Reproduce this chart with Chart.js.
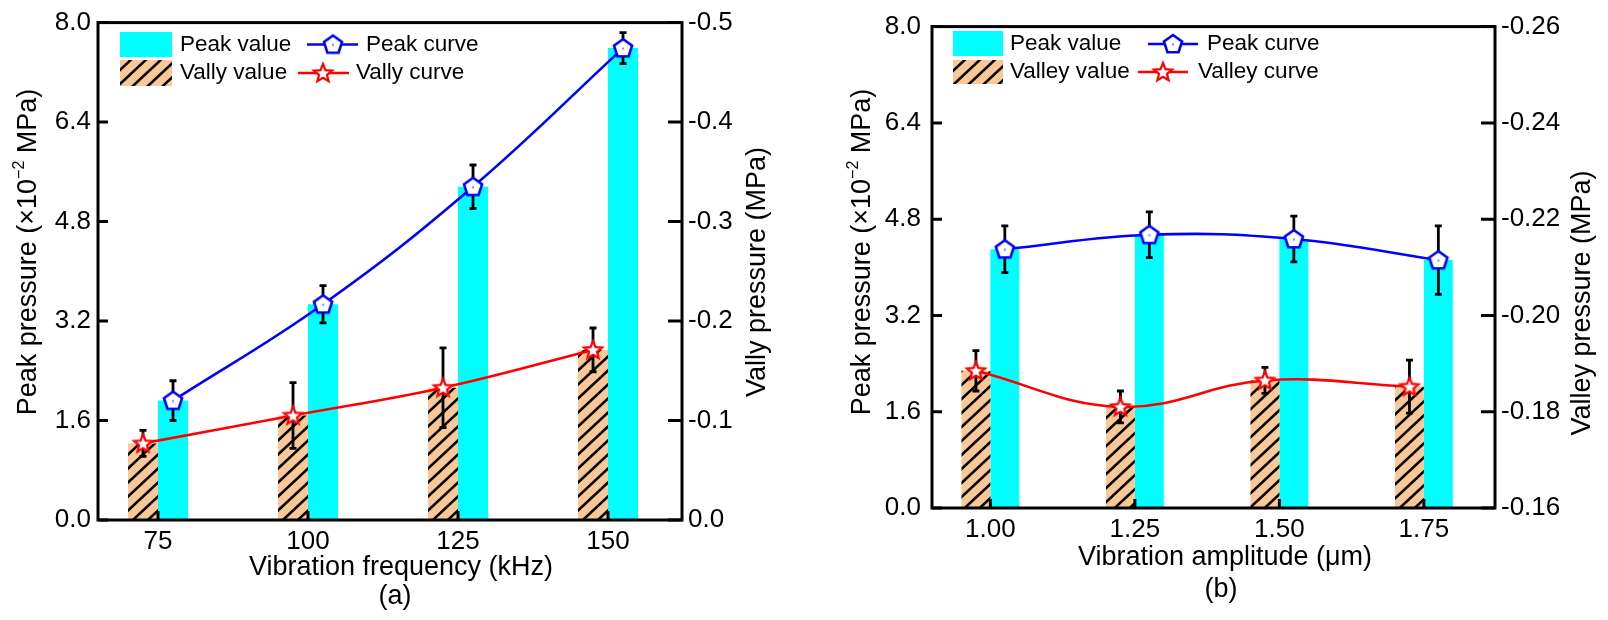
<!DOCTYPE html>
<html>
<head>
<meta charset="utf-8">
<script src="https://cdn.jsdelivr.net/npm/chart.js@4.4.0/dist/chart.umd.min.js"></script>
<style>
  html, body { margin: 0; padding: 0; background: #fff; }
  #wrap { position: relative; width: 1608px; height: 620px; }
  canvas { position: absolute; top: 0; }
  #chartA { left: 0; }
  #chartB { left: 804px; }
</style>
</head>
<body>
<div id="wrap">
  <canvas id="chartA" width="804" height="620"></canvas>
  <canvas id="chartB" width="804" height="620"></canvas>
</div>
<script>
// 数据 (a) 振动频率
const freqs = [75, 100, 125, 150];
const freqLabels = ['75', '100', '125', '150'];
const peakA = [1.92, 3.47, 5.36, 7.59];
const peakErrA = [0.32, 0.30, 0.35, 0.25];
const valleyA = [-0.077, -0.105, -0.133, -0.171];
const valleyErrA = [0.013, 0.033, 0.040, 0.022];

// 数据 (b) 振动幅值
const amps = [1.00, 1.25, 1.50, 1.75];
const ampLabels = ['1.00', '1.25', '1.50', '1.75'];
const peakB = [4.30, 4.54, 4.47, 4.12];
const peakErrB = [0.39, 0.38, 0.38, 0.57];
const valleyB = [-0.1885, -0.1810, -0.1865, -0.1852];
const valleyErrB = [0.0042, 0.0033, 0.0027, 0.0055];

// 刻度
const peakTicks = [0, 1.6, 3.2, 4.8, 6.4, 8.0];
const valleyTicksA = [0, -0.1, -0.2, -0.3, -0.4, -0.5];
const valleyTicksB = [-0.16, -0.18, -0.20, -0.22, -0.24, -0.26];

const FONT = '"Liberation Sans", Arial, sans-serif';
const CYAN = '#00FFFF';
const ORANGE = '#FAC896';
const BLUE = '#0000FF';
const RED = '#FF0000';
const CAT_PCT = 0.4;

// 斜线填充
function makeHatch() {
    const w = 15, h = 14;
    const k = h / w;
    const c = document.createElement('canvas');
    c.width = w; c.height = h;
    const g = c.getContext('2d');
    g.fillStyle = ORANGE;
    g.fillRect(0, 0, w, h);
    g.strokeStyle = '#000';
    g.lineWidth = 2.6;
    g.beginPath();
    [0, h, 2 * h].forEach(b => {
        g.moveTo(-2, b + 2 * k);
        g.lineTo(w + 2, b - k * (w + 2));
    });
    g.stroke();
    return document.createElement('canvas').getContext('2d').createPattern(c, 'repeat');
}

function makePentagon() {
    const s = 26, c = document.createElement('canvas');
    c.width = s; c.height = s;
    const g = c.getContext('2d');
    const r = 9.5, cx = s / 2, cy = s / 2 + 0.5;
    g.beginPath();
    for (let i = 0; i < 5; i++) {
        const a = -Math.PI / 2 + i * 2 * Math.PI / 5;
        g.lineTo(cx + r * Math.cos(a), cy + r * Math.sin(a));
    }
    g.closePath();
    g.fillStyle = '#fff';
    g.fill();
    g.strokeStyle = BLUE;
    g.lineWidth = 2.6;
    g.stroke();
    g.fillStyle = BLUE;
    g.fillRect(cx - 0.5, cy - 1, 1, 2);
    return c;
}

function makeStar() {
    const s = 26, c = document.createElement('canvas');
    c.width = s; c.height = s;
    const g = c.getContext('2d');
    const ro = 9.5, ri = 4.2, cx = s / 2, cy = s / 2 + 0.5;
    g.beginPath();
    for (let i = 0; i < 10; i++) {
        const r = i % 2 ? ri : ro;
        const a = -Math.PI / 2 + i * Math.PI / 5;
        g.lineTo(cx + r * Math.cos(a), cy + r * Math.sin(a));
    }
    g.closePath();
    g.fillStyle = '#fff';
    g.fill();
    g.strokeStyle = RED;
    g.lineWidth = 2.2;
    g.stroke();
    return c;
}

const hatch = makeHatch();
const pentagon = makePentagon();
const star = makeStar();

// 旋转文字（可带上标）
function drawRotated(ctx, cx, cy, parts) {
    ctx.save();
    ctx.translate(cx, cy);
    ctx.rotate(-Math.PI / 2);
    ctx.textBaseline = 'middle';
    ctx.textAlign = 'left';
    let total = 0;
    parts.forEach(p => { ctx.font = p.font; p.w = ctx.measureText(p.text).width; total += p.w; });
    let x = -total / 2;
    parts.forEach(p => {
        ctx.font = p.font;
        ctx.fillText(p.text, x, p.dy || 0);
        x += p.w;
    });
    ctx.restore();
}

function makeDecor(cfg) {
    return {
        id: 'decor',
        beforeDatasetDraw(chart, args) {
            const ds = chart.data.datasets[args.index];
            if (!ds.errors) return;
            const ctx = chart.ctx;
            const ys = chart.scales[args.meta.yAxisID];
            ctx.save();
            ctx.strokeStyle = '#000';
            ctx.lineWidth = 2.8;
            args.meta.data.forEach((pt, i) => {
                const v = ds.data[i].y, e = ds.errors[i];
                const y1 = ys.getPixelForValue(v + e);
                const y2 = ys.getPixelForValue(v - e);
                ctx.beginPath();
                ctx.moveTo(pt.x, y1); ctx.lineTo(pt.x, y2);
                ctx.moveTo(pt.x - 3.5, y1); ctx.lineTo(pt.x + 3.5, y1);
                ctx.moveTo(pt.x - 3.5, y2); ctx.lineTo(pt.x + 3.5, y2);
                ctx.stroke();
            });
            ctx.restore();
        },
        afterDraw(chart) {
            const ctx = chart.ctx;
            const a = chart.chartArea;
            ctx.save();
            // 内侧刻度
            ctx.strokeStyle = '#000';
            ctx.lineWidth = 3;
            ctx.beginPath();
            const yL = chart.scales.y, yR = chart.scales.y1, xs = chart.scales.x;
            yL.ticks.forEach((t, i) => { const p = yL.getPixelForTick(i); ctx.moveTo(a.left, p); ctx.lineTo(a.left + 10, p); });
            yR.ticks.forEach((t, i) => { const p = yR.getPixelForTick(i); ctx.moveTo(a.right, p); ctx.lineTo(a.right - 14, p); });
            xs.ticks.forEach((t, i) => { const p = xs.getPixelForTick(i); ctx.moveTo(p, a.bottom); ctx.lineTo(p, a.bottom - 9); });
            ctx.stroke();
            // 边框
            ctx.strokeRect(a.left, a.top, a.right - a.left, a.bottom - a.top);

            // 标题
            ctx.fillStyle = '#000';
            ctx.font = '27px ' + FONT;
            ctx.textAlign = 'center';
            ctx.textBaseline = 'middle';
            ctx.fillText(cfg.titleX.text, cfg.titleX.x, cfg.titleX.y);
            ctx.fillText(cfg.panel.text, cfg.panel.x, cfg.panel.y);
            drawRotated(ctx, cfg.titleL.x, cfg.titleL.y, [
                { text: 'Peak pressure (\u00d710', font: '27px ' + FONT },
                { text: '\u22122', font: '16px ' + FONT, dy: -9 },
                { text: ' MPa)', font: '27px ' + FONT }
            ]);
            drawRotated(ctx, cfg.titleR.x, cfg.titleR.y, [{ text: cfg.titleR.text, font: '27px ' + FONT }]);

            // 图例
            const L = cfg.legend;
            const ds = chart.data.datasets;
            ctx.fillStyle = CYAN;
            ctx.fillRect(...L.sw1);
            ctx.fillStyle = hatch;
            ctx.fillRect(...L.sw2);
            ctx.lineWidth = 2.5;
            ctx.strokeStyle = BLUE;
            ctx.beginPath(); ctx.moveTo(L.l1[0], L.l1[2]); ctx.lineTo(L.l1[1], L.l1[2]); ctx.stroke();
            ctx.drawImage(pentagon, L.l1[3] - pentagon.width / 2, L.l1[2] - pentagon.height / 2);
            ctx.strokeStyle = RED;
            ctx.beginPath(); ctx.moveTo(L.l2[0], L.l2[2]); ctx.lineTo(L.l2[1], L.l2[2]); ctx.stroke();
            ctx.drawImage(star, L.l2[3] - star.width / 2, L.l2[2] - star.height / 2);
            ctx.fillStyle = '#000';
            ctx.font = '22.5px ' + FONT;
            ctx.textAlign = 'left';
            ctx.fillText(ds[1].label, L.t1[0], L.t1[1]);
            ctx.fillText(ds[0].label, L.t2[0], L.t2[1]);
            ctx.fillText(ds[2].label, L.c1, L.l1[2]);
            ctx.fillText(ds[3].label, L.c2, L.l2[2]);
            ctx.restore();
        }
    };
}

function buildChart(id, opt) {
    const step = opt.cats[1] - opt.cats[0];
    const off = step * CAT_PCT / 4;
    const tickFont = { family: FONT, size: 26 };
    return new Chart(document.getElementById(id), {
        type: 'bar',
        data: {
            datasets: [
                {
                    label: opt.valleyName + ' value',
                    data: opt.cats.map((c, i) => ({ x: c, y: opt.valley[i] })),
                    yAxisID: 'y1',
                    backgroundColor: hatch,
                    borderWidth: 0,
                    categoryPercentage: CAT_PCT,
                    barPercentage: 1.0,
                    order: 2
                },
                {
                    label: 'Peak value',
                    data: opt.cats.map((c, i) => ({ x: c, y: opt.peak[i] })),
                    yAxisID: 'y',
                    backgroundColor: CYAN,
                    borderWidth: 0,
                    categoryPercentage: CAT_PCT,
                    barPercentage: 1.0,
                    order: 2
                },
                {
                    type: 'line',
                    label: 'Peak curve',
                    data: opt.cats.map((c, i) => ({ x: c + off, y: opt.peak[i] })),
                    errors: opt.peakErr,
                    yAxisID: 'y',
                    borderColor: BLUE,
                    borderWidth: 2.6,
                    tension: 0.4,
                    fill: false,
                    pointStyle: pentagon,
                    pointRadius: 9,
                    order: 1
                },
                {
                    type: 'line',
                    label: opt.valleyName + ' curve',
                    data: opt.cats.map((c, i) => ({ x: c - off, y: opt.valley[i] })),
                    errors: opt.valleyErr,
                    yAxisID: 'y1',
                    borderColor: RED,
                    borderWidth: 2.6,
                    tension: 0.4,
                    fill: false,
                    pointStyle: star,
                    pointRadius: 9,
                    order: 1
                }
            ]
        },
        options: {
            responsive: false,
            animation: false,
            events: [],
            layout: { padding: { top: 20, left: 0, right: 0, bottom: 0 } },
            plugins: { legend: { display: false }, tooltip: { enabled: false } },
            scales: {
                x: {
                    type: 'linear',
                    offset: false,
                    min: opt.xMin,
                    max: opt.xMax,
                    afterBuildTicks: s => { s.ticks = opt.cats.map(v => ({ value: v })); },
                    afterFit: s => { s.height = opt.xH; },
                    ticks: { callback: (v, i) => opt.catLabels[i], font: tickFont, color: '#000', padding: 6, maxRotation: 0, autoSkip: false },
                    grid: { display: false, drawTicks: false },
                    border: { display: false }
                },
                y: {
                    position: 'left',
                    min: 0,
                    max: 8,
                    afterBuildTicks: s => { s.ticks = peakTicks.map(v => ({ value: v })); },
                    afterFit: s => { s.width = opt.yW; },
                    ticks: { callback: v => v.toFixed(1), font: tickFont, color: '#000', padding: opt.yPad },
                    grid: { display: false, drawTicks: false },
                    border: { display: false }
                },
                y1: {
                    position: 'right',
                    min: opt.vMin,
                    max: opt.vMax,
                    reverse: true,
                    afterBuildTicks: s => { s.ticks = opt.vTicks.map(v => ({ value: v })); },
                    afterFit: s => { s.width = opt.y1W; },
                    ticks: { callback: v => v.toFixed(opt.vDec), font: tickFont, color: '#000', padding: 6 },
                    grid: { display: false, drawTicks: false },
                    border: { display: false }
                }
            }
        },
        plugins: [makeDecor(opt.decor)]
    });
}

buildChart('chartA', {
    cats: freqs, catLabels: freqLabels,
    peak: peakA, peakErr: peakErrA, valley: valleyA, valleyErr: valleyErrA,
    valleyName: 'Vally',
    xMin: 65, xMax: 162.33, xH: 100, yW: 98, y1W: 122, yPad: 7,
    vMin: -0.5, vMax: 0, vTicks: valleyTicksA, vDec: 1,
    decor: {
        titleX: { text: 'Vibration frequency (kHz)', x: 401, y: 568 },
        titleL: { x: 28.5, y: 252 },
        titleR: { text: 'Vally pressure (MPa)', x: 758, y: 272 },
        panel: { text: '(a)', x: 395, y: 597 },
        legend: {
            sw1: [120, 32, 52, 25], sw2: [120, 60, 52, 26],
            t1: [180, 44.5], t2: [180, 73],
            l1: [307, 358, 44.5, 333], l2: [298, 349, 73, 323],
            c1: 366, c2: 356
        }
    }
});

buildChart('chartB', {
    cats: amps, catLabels: ampLabels,
    peak: peakB, peakErr: peakErrB, valley: valleyB, valleyErr: valleyErrB,
    valleyName: 'Valley',
    xMin: 0.899, xMax: 1.873, xH: 112, yW: 128, y1W: 113, yPad: 11,
    vMin: -0.26, vMax: -0.16, vTicks: valleyTicksB, vDec: 2,
    decor: {
        titleX: { text: 'Vibration amplitude (\u03bcm)', x: 421, y: 558 },
        titleL: { x: 59, y: 252 },
        titleR: { text: 'Valley pressure (MPa)', x: 779, y: 303 },
        panel: { text: '(b)', x: 417, y: 590 },
        legend: {
            sw1: [149, 31, 50, 25], sw2: [149, 60, 50, 24],
            t1: [206, 44], t2: [206, 72],
            l1: [344, 394, 44, 369], l2: [334, 384, 72, 359],
            c1: 403, c2: 394
        }
    }
});
</script>
</body>
</html>
